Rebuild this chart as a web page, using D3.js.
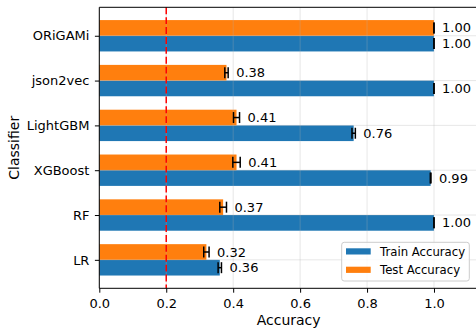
<!DOCTYPE html>
<html>
<head>
<meta charset="utf-8">
<script src="https://cdn.jsdelivr.net/npm/d3@7/dist/d3.min.js"></script>
<style>
  html, body { margin: 0; padding: 0; background: #fff; }
  svg { display: block; font-family: "DejaVu Sans", sans-serif; }
</style>
</head>
<body>
<svg id="chart" width="476" height="329"></svg>
<script>
// Classifiers, listed bottom to top
const classifiers = ["LR", "RF", "XGBoost", "LightGBM", "json2vec", "ORiGAMi"];
const trainAccuracy = [0.36, 1.00, 0.99, 0.76, 1.00, 1.00];
const trainError    = [0.005, 0.0, 0.001, 0.005, 0.0, 0.0];
const testAccuracy  = [0.32, 0.37, 0.41, 0.41, 0.38, 1.00];
const testError     = [0.008, 0.010, 0.011, 0.009, 0.005, 0.0];
const xTicks = [0.0, 0.2, 0.4, 0.6, 0.8, 1.0];
const baselineAccuracy = 0.2;
const seriesNames = ["Train Accuracy", "Test Accuracy"];
const seriesColors = ["#1f77b4", "#ff7f0e"];

const svg = d3.select("#chart");
const plot = { left: 99.3, right: 478, top: 7.3, bottom: 288.3 };
const barHalf = 0.35;

const x = d3.scaleLinear().domain([0, 1.1315]).range([plot.left, plot.right]);
const y = d3.scaleLinear()
  .domain([-barHalf - 0.285, classifiers.length - 1 + barHalf + 0.285])
  .range([plot.bottom, plot.top]);

const series = [
  { name: seriesNames[0], color: seriesColors[0], values: trainAccuracy, errors: trainError, offset: -barHalf / 2 },
  { name: seriesNames[1], color: seriesColors[1], values: testAccuracy, errors: testError, offset: barHalf / 2 }
];

// Bars
series.forEach(s => {
  svg.append("g").selectAll("rect")
    .data(classifiers)
    .join("rect")
    .attr("x", x(0))
    .attr("y", (d, i) => y(i + s.offset + barHalf / 2))
    .attr("width", (d, i) => x(s.values[i]) - x(0))
    .attr("height", y(0) - y(barHalf))
    .attr("fill", s.color);
});

// Grid lines drawn faintly above the bars
const grid = svg.append("g").attr("stroke", "#b0b0b0").attr("stroke-opacity", 0.3).attr("stroke-width", 1);
grid.selectAll(".gx").data(xTicks).join("line")
  .attr("x1", d => x(d)).attr("x2", d => x(d))
  .attr("y1", plot.top).attr("y2", plot.bottom);
grid.selectAll(".gy").data(classifiers).join("line")
  .attr("x1", plot.left).attr("x2", plot.right)
  .attr("y1", (d, i) => y(i)).attr("y2", (d, i) => y(i));

// Error bars and value labels
const capHalf = 5.5;
series.forEach(s => {
  const g = svg.append("g").attr("stroke", "#000").attr("stroke-width", 1.5);
  classifiers.forEach((c, i) => {
    const cy = y(i + s.offset);
    const lo = x(s.values[i] - s.errors[i]);
    const hi = x(s.values[i] + s.errors[i]);
    g.append("line").attr("x1", lo).attr("x2", hi).attr("y1", cy).attr("y2", cy);
    g.append("line").attr("x1", lo).attr("x2", lo).attr("y1", cy - capHalf).attr("y2", cy + capHalf);
    g.append("line").attr("x1", hi).attr("x2", hi).attr("y1", cy - capHalf).attr("y2", cy + capHalf);
    svg.append("text")
      .attr("x", hi + 8)
      .attr("y", cy)
      .attr("dy", "0.35em")
      .attr("font-size", 13)
      .attr("fill", "#000")
      .text(s.values[i].toFixed(2));
  });
});

// Baseline reference line
svg.append("line")
  .attr("x1", x(baselineAccuracy)).attr("x2", x(baselineAccuracy))
  .attr("y1", plot.top).attr("y2", plot.bottom)
  .attr("stroke", "#ff0000").attr("stroke-width", 1.5)
  .attr("stroke-dasharray", "6.9,3");

// Axes
const xAxis = d3.axisBottom(x).tickValues(xTicks).tickFormat(d3.format(".1f")).tickSizeOuter(0).tickSize(4.4).tickPadding(6.2);
const gx = svg.append("g").attr("transform", `translate(0,${plot.bottom})`).call(xAxis);
const yAxis = d3.axisLeft(y).tickValues(d3.range(classifiers.length)).tickFormat(i => classifiers[i]).tickSizeOuter(0).tickSize(4.4).tickPadding(5.5);
const gy = svg.append("g").attr("transform", `translate(${plot.left},0)`).call(yAxis);
[gx, gy].forEach(g => {
  g.attr("font-family", "DejaVu Sans, sans-serif").attr("font-size", 13);
  g.selectAll("text").attr("fill", "#000");
  g.selectAll("line").attr("stroke", "#000").attr("stroke-width", 1);
  g.select(".domain").remove();
});

// Spines
svg.append("line").attr("x1", plot.left).attr("x2", plot.left).attr("y1", plot.top).attr("y2", plot.bottom).attr("stroke", "#000").attr("stroke-width", 1);
svg.append("line").attr("x1", plot.left).attr("x2", plot.right).attr("y1", plot.bottom).attr("y2", plot.bottom).attr("stroke", "#000").attr("stroke-width", 1);
svg.append("line").attr("x1", plot.left).attr("x2", plot.right).attr("y1", plot.top).attr("y2", plot.top).attr("stroke", "#000").attr("stroke-width", 1);

// Axis titles
svg.append("text")
  .attr("x", (plot.left + plot.right) / 2).attr("y", 325.2)
  .attr("text-anchor", "middle").attr("font-size", 14).attr("fill", "#000")
  .text("Accuracy");
svg.append("text")
  .attr("transform", `translate(18.5,${(plot.top + plot.bottom) / 2}) rotate(-90)`)
  .attr("text-anchor", "middle").attr("font-size", 14).attr("fill", "#000")
  .text("Classifier");

// Legend
const legend = svg.append("g").attr("transform", "translate(341.7,242.3)");
legend.append("rect")
  .attr("width", 127.6).attr("height", 38.7).attr("rx", 2.5)
  .attr("fill", "#fff").attr("fill-opacity", 0.8)
  .attr("stroke", "#cccccc").attr("stroke-width", 1);
series.forEach((s, i) => {
  const row = legend.append("g").attr("transform", `translate(0,${6 + i * 18.4})`);
  row.append("rect").attr("x", 4.3).attr("y", 0).attr("width", 24.7).attr("height", 6.2).attr("fill", s.color);
  row.append("text").attr("x", 38.3).attr("y", 3.1).attr("dy", "0.35em")
    .attr("font-size", 11.7).attr("fill", "#000").text(s.name);
});
</script>
</body>
</html>
